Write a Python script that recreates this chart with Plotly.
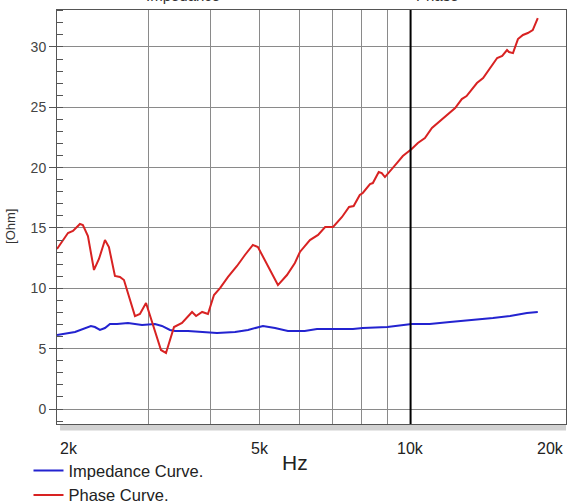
import plotly.graph_objects as go
import math

# ---- data ----
phase_freq = [1973, 2075, 2123, 2192, 2222, 2274, 2338, 2392, 2459, 2504,
              2574, 2634, 2683, 2822, 2887, 2969, 3180, 3254, 3376, 3502,
              3667, 3736, 3841, 3945, 4056, 4170, 4326, 4508, 4675, 4849,
              4962, 5125, 5440, 5670, 5880, 6017, 6300, 6540, 6756, 7007,
              7300, 7540, 7700, 7920, 8030, 8300, 8410, 8640, 8760, 8890,
              9020, 9390, 9650, 10050, 10340, 10680, 11030, 11340, 11820, 12270,
              12650, 12930, 13560, 13950, 14880, 15230, 15570, 15710, 16000, 16370,
              16750, 17130, 17520, 17930]
phase_vals = [13.26, 14.58, 14.75, 15.33, 15.24, 14.33, 11.52, 12.43, 14.0, 13.42,
              11.02, 10.94, 10.69, 7.70, 7.87, 8.78, 4.89, 4.64, 6.79, 7.13,
              8.04, 7.70, 8.04, 7.87, 9.44, 10.02, 10.94, 11.85, 12.76, 13.59,
              13.42, 12.34, 10.27, 11.10, 12.10, 13.01, 14.0, 14.42, 15.08, 15.08,
              15.91, 16.74, 16.82, 17.73, 17.90, 18.64, 18.72, 19.64, 19.55, 19.22,
              19.55, 20.38, 20.96, 21.54, 22.04, 22.45, 23.28, 23.70, 24.36, 24.94,
              25.68, 25.93, 27.01, 27.42, 29.08, 29.25, 29.74, 29.58, 29.49, 30.65,
              30.99, 31.15, 31.40, 32.39]

imp_freq = [1973, 2143, 2305, 2348, 2403, 2459, 2516, 2599, 2733, 2915,
            3093, 3194, 3314, 3391, 3600, 3841, 4112, 4467, 4742, 5078,
            5367, 5695, 6151, 6507, 7007, 7675, 8030, 8988, 10050, 10917,
            11980, 13315, 14595, 15786, 17060, 17930]
imp_vals = [6.13, 6.38, 6.88, 6.79, 6.55, 6.71, 7.04, 7.04, 7.13, 6.96,
            7.04, 6.88, 6.55, 6.46, 6.46, 6.38, 6.30, 6.38, 6.55, 6.88,
            6.71, 6.46, 6.46, 6.63, 6.63, 6.63, 6.71, 6.79, 7.04, 7.04,
            7.21, 7.37, 7.54, 7.71, 7.95, 8.04]

grid_freqs = [3000, 4000, 5000, 6000, 7000, 8000, 9000, 10000]
x_tick_vals = [2000, 5000, 10000, 20000]
x_tick_text = ["2k", "5k", "10k", "20k"]
y_tick_vals = [0, 5, 10, 15, 20, 25, 30]

FONT = "Liberation Sans, Arial, sans-serif"

fig = go.Figure()
fig.add_trace(go.Scatter(x=imp_freq, y=imp_vals, mode="lines",
                         name="Impedance Curve.",
                         line=dict(color="#2323d0", width=2)))
fig.add_trace(go.Scatter(x=phase_freq, y=phase_vals, mode="lines",
                         name="Phase Curve.",
                         line=dict(color="#d82222", width=2)))

fig.update_layout(
    width=567, height=504,
    margin=dict(l=57, r=1, t=10, b=80, autoexpand=False),
    paper_bgcolor="white", plot_bgcolor="white",
    font=dict(family=FONT, color="#333333"),
    showlegend=True,
    legend=dict(x=-0.056, xanchor="left", y=-0.0707, yanchor="top",
                font=dict(size=16.5, color="#222222", family=FONT),
                bgcolor="rgba(0,0,0,0)", tracegroupgap=0,
                itemwidth=30),
    xaxis=dict(type="log",
               range=[math.log10(1973), math.log10(20410)],
               tickvals=grid_freqs, showticklabels=False, ticks="",
               showgrid=True, gridcolor="#8a8a8a", gridwidth=1,
               showline=True, linecolor="#555555", linewidth=1, mirror=True,
               zeroline=False),
    yaxis=dict(range=[-1.243, 33.06],
               tickvals=y_tick_vals, ticks="outside", ticklen=7,
               tickcolor="#555555",
               tickfont=dict(size=14, color="#444444", family=FONT),
               showgrid=True, gridcolor="#8a8a8a", gridwidth=1,
               showline=True, linecolor="#555555", linewidth=1, mirror=True,
               zeroline=False,
               minor=dict(dtick=1, ticks="inside", ticklen=6,
                          tickcolor="#555555", showgrid=False)),
)

# thick 10k line
fig.add_shape(type="line", xref="x", yref="paper", x0=10000, x1=10000,
              y0=0, y1=1, line=dict(color="black", width=2))
# bottom shadow
fig.add_shape(type="rect", xref="paper", yref="paper", x0=0.006, x1=1,
              y0=-0.016, y1=-0.002, fillcolor="#d2d2d2", line=dict(width=0),
              layer="below")

# x tick labels
shifts = {2000: (-2, "left"), 5000: (0, "center"), 10000: (0, "center"), 20000: (4, "right")}
for v, t in zip(x_tick_vals, x_tick_text):
    xs, xa = shifts[v]
    fig.add_annotation(x=math.log10(v), xref="x", y=0, yref="paper",
                       text=t, showarrow=False, xanchor=xa, yanchor="middle",
                       xshift=xs, yshift=-24,
                       font=dict(size=16, color="#222222", family=FONT))

fig.add_annotation(x=0.467, xref="paper", y=0, yref="paper", text="Hz",
                   showarrow=False, xanchor="center", yanchor="middle",
                   yshift=-38, font=dict(size=21, color="#222222", family=FONT))

fig.add_annotation(x=0, xref="paper", y=0.476, yref="paper", text="[Ohm]",
                   textangle=-90, showarrow=False, xanchor="center",
                   yanchor="middle", xshift=-46,
                   font=dict(size=13, color="#333333", family=FONT))

# cut-off titles at the very top
fig.add_annotation(x=0.248, xref="paper", y=1, yref="paper", text="Impedance",
                   showarrow=False, xanchor="center", yanchor="bottom",
                   yshift=4, font=dict(size=15, color="#333333", family=FONT))
fig.add_annotation(x=0.747, xref="paper", y=1, yref="paper", text="Phase",
                   showarrow=False, xanchor="center", yanchor="bottom",
                   yshift=4, font=dict(size=15, color="#333333", family=FONT))

fig.write_html("out.html",
               config={"displayModeBar": False},
               post_script="document.body.style.margin='0';"
                           "document.body.style.overflow='hidden';")
